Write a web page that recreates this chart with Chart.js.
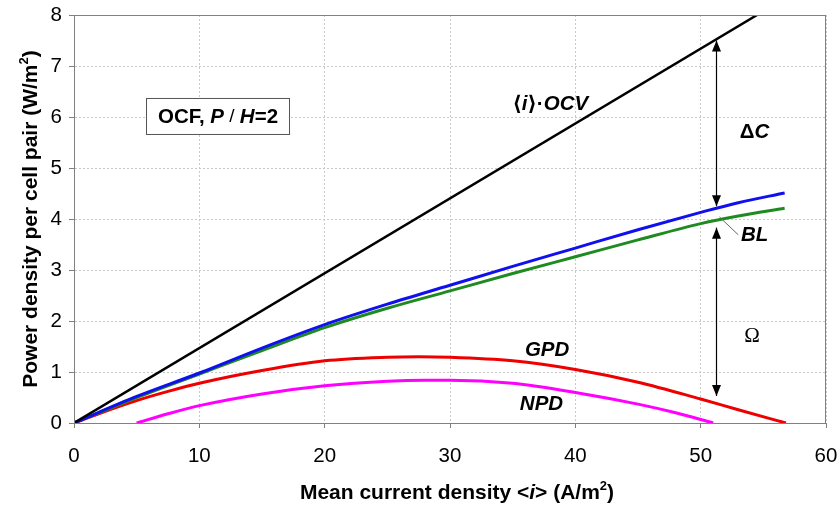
<!DOCTYPE html>
<html><head><meta charset="utf-8">
<script src="https://cdn.jsdelivr.net/npm/chart.js@4.4.1/dist/chart.umd.min.js"></script>
<style>html,body{margin:0;padding:0;background:#fff}#wrap{width:839px;height:511px}</style>
</head><body><div id="wrap"><canvas id="c" width="839" height="511"></canvas></div>
<script>
// ---- data ----
const ocvX = [0, 54.5];
const ocvY = [0, 8];
const blX = [0, 5, 10, 15, 20, 25, 30, 35, 40, 45, 50, 53, 56.7];
const blueY = [0, 0.52, 0.98, 1.47, 1.93, 2.33, 2.7, 3.07, 3.43, 3.79, 4.13, 4.32, 4.51];
const greenY = [0, 0.5, 0.96, 1.42, 1.87, 2.25, 2.59, 2.93, 3.26, 3.59, 3.91, 4.06, 4.21];
const gpdX = [0, 2.5, 5, 7.5, 10, 15, 20, 25, 27.5, 30, 35, 40, 45, 50, 53, 56.8];
const gpdY = [0, 0.23, 0.44, 0.62, 0.78, 1.03, 1.22, 1.29, 1.3, 1.29, 1.22, 1.05, 0.8, 0.47, 0.26, 0];
const npdX = [5, 7.5, 10, 15, 20, 25, 28, 30, 35, 40, 45, 48, 51];
const npdY = [0, 0.18, 0.34, 0.57, 0.73, 0.82, 0.84, 0.84, 0.78, 0.6, 0.37, 0.2, 0];
const xTicks = [0, 10, 20, 30, 40, 50, 60];
const yTicks = [0, 1, 2, 3, 4, 5, 6, 7, 8];

const pts = (xs, ys) => xs.map((x, i) => ({x, y: ys[i]}));
const FAM = '"Liberation Sans", Arial, "DejaVu Sans", sans-serif';
const B = 'bold 20.5px ' + FAM, BI = 'italic bold 20.5px ' + FAM;
const TB = 'bold 21px ' + FAM, TBI = 'italic bold 21px ' + FAM, SUP = 'bold 13px ' + FAM;

function rich(ctx, segs, cx, cy) {
  let tot = 0;
  segs.forEach(s => { ctx.font = s.f; s.w = ctx.measureText(s.t).width; tot += s.w; });
  let x = cx - tot / 2;
  ctx.textBaseline = 'middle'; ctx.textAlign = 'left';
  segs.forEach(s => { ctx.font = s.f; ctx.fillText(s.t, x, cy + (s.dy || 0)); x += s.w; });
}
function arrowHead(ctx, x, y, dir) {
  ctx.beginPath();
  ctx.moveTo(x, y);
  ctx.lineTo(x - 4.5, y - dir * 11);
  ctx.lineTo(x + 4.5, y - dir * 11);
  ctx.closePath(); ctx.fill();
}

const annot = {
  id: 'annot',
  afterDatasetsDraw(chart) {
    const {ctx, scales: {x, y}, chartArea: a} = chart;
    const X = v => x.getPixelForValue(v), Y = v => y.getPixelForValue(v);
    ctx.save();
    // plot border
    ctx.strokeStyle = '#808080'; ctx.lineWidth = 1;
    ctx.strokeRect(a.left + 0.5, a.top + 0.5, a.right - a.left - 1, a.bottom - a.top);
    // box
    const bx = X(11.49), by = Y(6.02);
    ctx.fillStyle = '#fff'; ctx.strokeStyle = '#555';
    ctx.fillRect(bx - 72, by - 18, 144, 36);
    ctx.strokeRect(bx - 71.5, by - 17.5, 143, 36);
    ctx.fillStyle = '#000';
    rich(ctx, [{t:'OCF, ',f:B},{t:'P',f:BI},{t:' / ',f:'19px ' + FAM},{t:'H',f:BI},{t:'=2',f:B}], bx, by + 1);
    // labels
    rich(ctx, [{t:'⟨',f:B},{t:'i',f:BI},{t:'⟩·',f:B},{t:'OCV',f:BI}], X(38.0), Y(6.24));
    rich(ctx, [{t:'Δ',f:B},{t:'C',f:BI}], X(54.3), Y(5.69));
    rich(ctx, [{t:'BL',f:BI}], X(54.3), Y(3.67));
    rich(ctx, [{t:'Ω',f:'21px "Liberation Serif", "Times New Roman", serif'}], X(54.1), Y(1.69));
    rich(ctx, [{t:'GPD',f:BI}], X(37.75), Y(1.43));
    rich(ctx, [{t:'NPD',f:BI}], X(37.3), Y(0.37));
    // arrows
    const ax = Math.round(X(51.2)) + 0.5;
    ctx.strokeStyle = '#000'; ctx.lineWidth = 1.2;
    ctx.beginPath(); ctx.moveTo(ax, Y(7.5)); ctx.lineTo(ax, Y(4.25)); ctx.stroke();
    ctx.beginPath(); ctx.moveTo(ax, Y(3.83)); ctx.lineTo(ax, Y(0.53)); ctx.stroke();
    arrowHead(ctx, ax, Y(7.5), -1); arrowHead(ctx, ax, Y(4.25), 1);
    arrowHead(ctx, ax, Y(3.83), -1); arrowHead(ctx, ax, Y(0.53), 1);
    // BL leader
    ctx.strokeStyle = '#666'; ctx.lineWidth = 1;
    ctx.beginPath(); ctx.moveTo(X(51.5), Y(4.04)); ctx.lineTo(X(53.0), Y(3.69)); ctx.stroke();
    // axis titles
    ctx.fillStyle = '#000';
    rich(ctx, [{t:'Mean current density <',f:TB},{t:'i',f:TBI},{t:'> (A/m',f:TB},{t:'2',f:SUP,dy:-7},{t:')',f:TB}],
      (a.left + a.right) / 2 + 7, x.bottom - 18);
    ctx.save();
    ctx.translate(y.left + 31, (a.top + a.bottom) / 2);
    ctx.rotate(-Math.PI / 2);
    rich(ctx, [{t:'Power density per cell pair (W/m',f:TB},{t:'2',f:SUP,dy:-7},{t:')',f:TB}], 0, 0);
    ctx.restore();
    ctx.restore();
  }
};

new Chart(document.getElementById('c'), {
  type: 'line',
  data: {
    datasets: [
      {label: 'OCV', data: pts(ocvX, ocvY), borderColor: '#000', borderWidth: 2.5, tension: 0},
      {label: 'blue', data: pts(blX, blueY), borderColor: '#1010ee', borderWidth: 3, cubicInterpolationMode: 'monotone'},
      {label: 'green', data: pts(blX, greenY), borderColor: '#1f8a1f', borderWidth: 3, cubicInterpolationMode: 'monotone'},
      {label: 'GPD', data: pts(gpdX, gpdY), borderColor: '#ee0000', borderWidth: 3, cubicInterpolationMode: 'monotone'},
      {label: 'NPD', data: pts(npdX, npdY), borderColor: '#ff00ff', borderWidth: 3, cubicInterpolationMode: 'monotone'}
    ]
  },
  options: {
    responsive: false, animation: false, devicePixelRatio: 1,
    layout: {padding: {left: 0, right: 13, top: 15, bottom: 0}},
    elements: {point: {radius: 0}},
    plugins: {legend: {display: false}, tooltip: {enabled: false}},
    scales: {
      x: {
        type: 'linear', min: 0, max: 60,
        afterBuildTicks: s => { s.ticks = xTicks.map(v => ({value: v})); },
        afterFit: s => { s.height = 88; s.paddingRight = 0; },
        ticks: {color: '#000', font: {size: 20.5, family: FAM}, padding: 16, maxRotation: 0},
        grid: {color: '#c8c8c8', tickColor: '#808080', tickLength: 5},
        border: {color: '#808080', width: 1, dash: [2, 2]},
        title: {display: false}
      },
      y: {
        type: 'linear', min: 0, max: 8,
        afterBuildTicks: s => { s.ticks = yTicks.map(v => ({value: v})); },
        afterFit: s => { s.width = 74; s.paddingTop = 0; s.paddingBottom = 0; },
        ticks: {color: '#000', font: {size: 20.5, family: FAM}, padding: 7},
        grid: {color: '#c8c8c8', tickColor: '#808080', tickLength: 5},
        border: {color: '#808080', width: 1, dash: [2, 2]},
        title: {display: false}
      }
    }
  },
  plugins: [annot]
});
</script></body></html>
